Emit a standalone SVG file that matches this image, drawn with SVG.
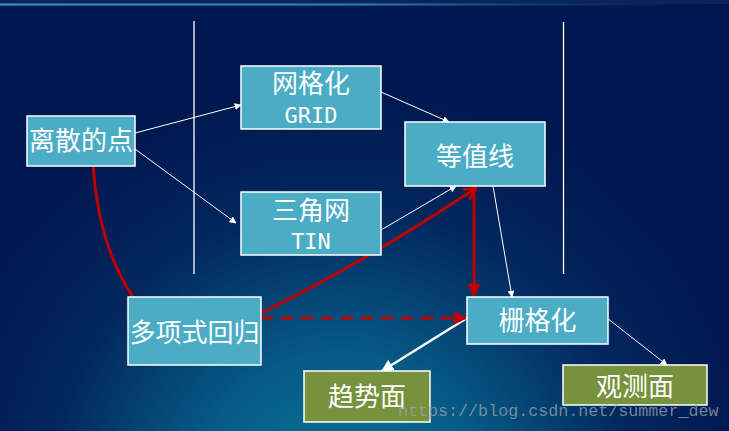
<svg xmlns="http://www.w3.org/2000/svg" width="729" height="431" viewBox="0 0 729 431">
<defs>
<radialGradient id="bg" cx="340" cy="500" r="420" gradientUnits="userSpaceOnUse">
<stop offset="0" stop-color="#0b7898"/>
<stop offset="0.35" stop-color="#065a84"/>
<stop offset="0.7" stop-color="#02275e"/>
<stop offset="1" stop-color="#00174f"/>
</radialGradient>
<linearGradient id="hdr" x1="0" y1="0" x2="1" y2="0">
<stop offset="0" stop-color="#3d92d0"/>
<stop offset="0.5" stop-color="#2f7fbf"/>
<stop offset="0.85" stop-color="#0b2f6a" stop-opacity="0.6"/>
<stop offset="1" stop-color="#001a52" stop-opacity="0"/>
</linearGradient>
<marker id="aw" viewBox="0 0 10 10" refX="9" refY="5" markerWidth="7" markerHeight="7" markerUnits="userSpaceOnUse" orient="auto"><path d="M0,0 L10,5 L0,10 z" fill="#ffffff"/></marker>
<marker id="awb" viewBox="0 0 10 10" refX="9" refY="5" markerWidth="5" markerHeight="5" orient="auto"><path d="M0,0 L10,5 L0,10 z" fill="#ffffff"/></marker>
<marker id="ar" viewBox="0 0 10 10" refX="9" refY="5" markerWidth="4.5" markerHeight="4.5" orient="auto"><path d="M0,0 L10,5 L0,10 z" fill="#c00000"/></marker>
<marker id="aro" viewBox="0 0 10 10" refX="9" refY="5" markerWidth="5" markerHeight="5" orient="auto"><path d="M1,1 L9,5 L1,9" fill="none" stroke="#c00000" stroke-width="2"/></marker>
</defs>
<style>
.box{fill:#4bacc6;stroke:#ffffff;stroke-width:1.5}
.gbox{fill:#76923c;stroke:#ffffff;stroke-width:1.5}
.t{font-family:"Noto Sans CJK SC","DejaVu Sans",sans-serif;fill:#ffffff;text-anchor:middle;font-size:26px}
.m{font-family:"DejaVu Sans Mono",monospace;fill:#ffffff;text-anchor:middle;font-size:22px}
.thin{stroke:#ffffff;stroke-width:1;fill:none}
.red{stroke:#c00000;stroke-width:3;fill:none}
.sep{stroke:#ffffff;stroke-width:1.3}
</style>
<rect x="0" y="0" width="729" height="431" fill="url(#bg)"/>
<rect x="0" y="0" width="729" height="4" fill="#0a2558"/>
<rect x="0" y="3.5" width="729" height="2" fill="url(#hdr)"/>
<line class="sep" x1="194" y1="21" x2="194" y2="274"/>
<line class="sep" x1="563.5" y1="22" x2="563.5" y2="274"/>
<g id="connectors">
<line class="thin" x1="135" y1="133" x2="241" y2="105" marker-end="url(#aw)"/>
<line class="thin" x1="135" y1="149" x2="236" y2="223" marker-end="url(#aw)"/>
<line class="thin" x1="381" y1="92" x2="449" y2="122" marker-end="url(#aw)"/>
<line class="thin" x1="381" y1="230" x2="456" y2="186" marker-end="url(#aw)"/>
<line class="thin" x1="493" y1="186" x2="512" y2="297" marker-end="url(#aw)"/>
<line class="thin" x1="607" y1="318" x2="667" y2="365" marker-end="url(#aw)"/>
<line x1="467" y1="318" x2="382" y2="371" stroke="#ffffff" stroke-width="2.5" marker-end="url(#awb)"/>
<path class="red" d="M93,163 Q98,245 133,297"/>
<path class="red" d="M261,313 Q360,265 476,188" marker-end="url(#aro)"/>
<line class="red" x1="474" y1="189" x2="474" y2="296" marker-end="url(#ar)"/>
<line class="red" x1="261" y1="318" x2="466" y2="318" stroke-dasharray="12,8" marker-end="url(#ar)"/>
</g>
<g id="n1"><rect class="box" x="27" y="116" width="108" height="50"/><text class="t" x="81" y="150">离散的点</text></g>
<g id="n2"><rect class="box" x="241" y="66" width="140" height="63"/><text class="t" x="311" y="93">网格化</text><text class="m" x="311" y="123">GRID</text></g>
<g id="n3"><rect class="box" x="241" y="192" width="140" height="63"/><text class="t" x="311" y="220">三角网</text><text class="m" x="311" y="249">TIN</text></g>
<g id="n4"><rect class="box" x="405" y="122" width="140" height="64"/><text class="t" x="475" y="166">等值线</text></g>
<g id="n5"><rect class="box" x="128" y="297" width="133" height="68"/><text class="t" x="194.5" y="342">多项式回归</text></g>
<g id="n6"><rect class="box" x="467" y="297" width="141" height="47"/><text class="t" x="537.5" y="330">栅格化</text></g>
<g id="n7"><rect class="gbox" x="304" y="371" width="126" height="51"/><text class="t" x="367" y="406">趋势面</text></g>
<g id="n8"><rect class="gbox" x="563" y="365" width="144" height="40"/><text class="t" x="635" y="396">观测面</text></g>
<text x="398" y="416" font-family="'Liberation Mono',monospace" font-size="16.7" fill="#9aa4ad" fill-opacity="0.75">https://blog.csdn.net/summer_dew</text>
</svg>
